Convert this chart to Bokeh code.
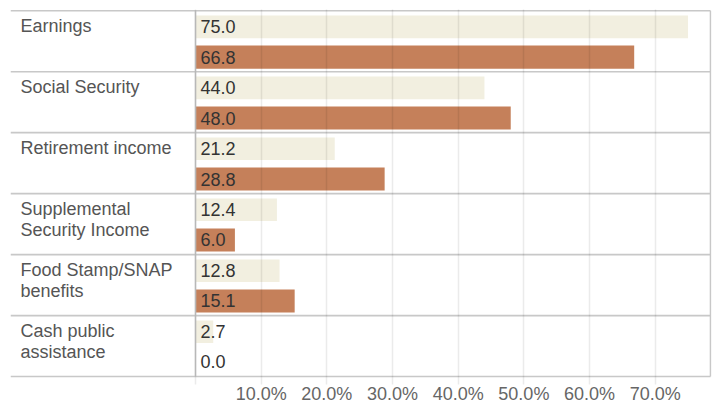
from bokeh.plotting import figure
from bokeh.models import Range1d, FixedTicker, PrintfTickFormatter, ColumnDataSource
from bokeh.core.properties import value
from bokeh.embed import file_html
from bokeh.resources import INLINE

# ---- data ----
categories = ["Earnings", "Social Security", "Retirement income",
              "Supplemental\nSecurity Income", "Food Stamp/SNAP\nbenefits",
              "Cash public\nassistance"]
series_a = [75.0, 44.0, 21.2, 12.4, 12.8, 2.7]
series_b = [66.8, 48.0, 28.8, 6.0, 15.1, 0.0]
tick_values = [0, 10, 20, 30, 40, 50, 60, 70]

# ---- layout constants ----
XSTART, XEND = -28.17, 78.57
XBORDER = 78.42
N = len(categories)
FONT = value("Liberation Sans")
LIGHT = "#F2EFE0"
DARK = "#C5805A"
SEP = "#C8C8C8"

rows = list(range(N))
src = ColumnDataSource(dict(
    row=rows,
    cat=categories,
    a=series_a,
    b=series_b,
    ya=[r + 0.265 for r in rows],
    yb=[r + 0.76 for r in rows],
    zero=[0] * N,
    la=[f"{v:.1f}" for v in series_a],
    lb=[f"{v:.1f}" for v in series_b],
    xs=[XSTART] * N,
))

p = figure(width=712, height=406, output_backend="svg", toolbar_location=None,
           x_range=Range1d(XSTART, XEND), y_range=Range1d(N + 0.13, -0.02),
           min_border_left=10, min_border_right=1, min_border_top=9, min_border_bottom=0)
p.outline_line_color = None
p.background_fill_color = "white"
p.border_fill_color = "white"

p.yaxis.visible = False
p.ygrid.visible = False

ax = p.xaxis[0]
ax.ticker = FixedTicker(ticks=tick_values)
ax.formatter = PrintfTickFormatter(format="%.1f%%")
ax.major_label_overrides = {0: ""}
ax.axis_line_color = None
ax.major_tick_line_color = None
ax.major_tick_out = 0
ax.major_tick_in = 0
ax.minor_tick_line_color = None
ax.major_label_text_font = "Liberation Sans"
ax.major_label_text_font_size = "18px"
ax.major_label_text_color = "#666666"
ax.major_label_standoff = -1

g = p.xgrid[0]
g.ticker = FixedTicker(ticks=tick_values)
g.grid_line_color = "black"
g.grid_line_alpha = 0.08
g.grid_line_width = 1.5
g.level = "overlay"

# bars
p.hbar(y="ya", left=0, right="a", height=0.37, source=src, fill_color=LIGHT, line_color=None)
p.hbar(y="yb", left=0, right="b", height=0.38, source=src, fill_color=DARK, line_color=None)

# row separators
seps = list(range(N + 1))
p.segment(x0=[XSTART] * len(seps), x1=[XBORDER] * len(seps), y0=seps, y1=seps,
          line_color=SEP, line_width=1.6)
# zero line and right border
p.segment(x0=[0, XBORDER], x1=[0, XBORDER], y0=[0, 0], y1=[N, N], line_color=SEP, line_width=1.6)

# value labels
p.text(x="zero", y="ya", text="la", source=src, x_offset=5, text_baseline="middle",
       text_font=FONT, text_font_size="18px", text_color="#333333")
p.text(x="zero", y="yb", text="lb", source=src, x_offset=5, text_baseline="middle",
       text_font=FONT, text_font_size="18px", text_color="#333333")

# category labels
p.text(x="xs", y="row", text="cat", source=src, x_offset=10, y_offset=5, text_baseline="top",
       text_font=FONT, text_font_size="18px", text_color="#555555", text_line_height=1.05)

open("out.html", "w").write(file_html(p, INLINE))
